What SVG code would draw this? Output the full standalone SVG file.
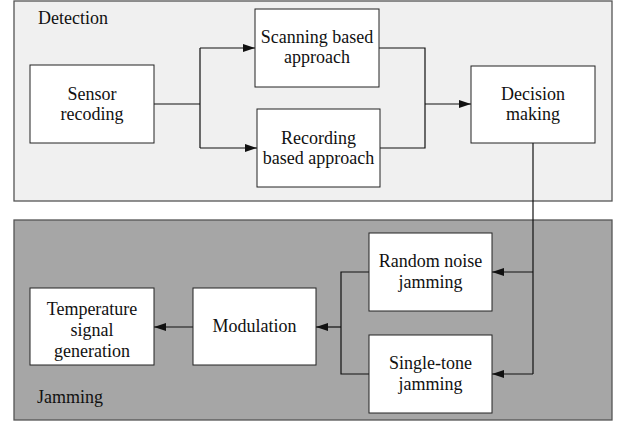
<svg xmlns="http://www.w3.org/2000/svg" width="619" height="424" viewBox="0 0 619 424">
  <style>
    .panel { stroke: #555555; stroke-width: 1.3; }
    .box { fill: #ffffff; stroke: #222222; stroke-width: 1; }
    .lbl { font-family: "Liberation Serif", "Times New Roman", serif; font-size: 18px; fill: #111111; text-anchor: middle; }
    .ptitle { font-family: "Liberation Serif", "Times New Roman", serif; font-size: 18px; fill: #111111; }
    .wire { fill: none; stroke: #111111; stroke-width: 1.2; }
  </style>
  <defs>
    <marker id="arrow" viewBox="0 0 12 8" refX="12" refY="4" markerWidth="12" markerHeight="8" markerUnits="userSpaceOnUse" orient="auto">
      <path d="M0,0 L12,4 L0,8 Z" fill="#111111"/>
    </marker>
  </defs>

  <!-- panels -->
  <g id="detection-panel">
    <rect class="panel" x="14" y="1" width="598" height="200" fill="#f0f0f0"/>
    <text class="ptitle" x="38" y="24">Detection</text>
  </g>
  <g id="jamming-panel">
    <rect class="panel" x="14" y="220" width="598" height="200" fill="#a6a6a6"/>
    <text class="ptitle" x="37" y="403">Jamming</text>
  </g>

  <!-- connectors -->
  <g id="connectors">
    <path class="wire" d="M154,104 H200 M200,48 V148"/>
    <path class="wire" d="M200,48 H255" marker-end="url(#arrow)"/>
    <path class="wire" d="M200,148 H257" marker-end="url(#arrow)"/>
    <path class="wire" d="M379,48 H425 V148 H380"/>
    <path class="wire" d="M425,104 H471" marker-end="url(#arrow)"/>
    <path class="wire" d="M533,143 V374"/>
    <path class="wire" d="M533,272 H492" marker-end="url(#arrow)"/>
    <path class="wire" d="M533,374 H492" marker-end="url(#arrow)"/>
    <path class="wire" d="M369,272 H341 V374 H369"/>
    <path class="wire" d="M341,327 H316" marker-end="url(#arrow)"/>
    <path class="wire" d="M193,327 H154" marker-end="url(#arrow)"/>
  </g>

  <!-- nodes -->
  <g id="sensor-recoding">
    <rect class="box" x="30" y="65" width="124" height="78"/>
    <text class="lbl" x="92" y="100">Sensor</text>
    <text class="lbl" x="92" y="120">recoding</text>
  </g>
  <g id="scanning-based">
    <rect class="box" x="255" y="9" width="124" height="78"/>
    <text class="lbl" x="317" y="43">Scanning based</text>
    <text class="lbl" x="317" y="63">approach</text>
  </g>
  <g id="recording-based">
    <rect class="box" x="257" y="109" width="123" height="78"/>
    <text class="lbl" x="318.5" y="144">Recording</text>
    <text class="lbl" x="318.5" y="164">based approach</text>
  </g>
  <g id="decision-making">
    <rect class="box" x="471" y="66" width="124" height="77"/>
    <text class="lbl" x="533" y="100">Decision</text>
    <text class="lbl" x="533" y="120">making</text>
  </g>
  <g id="random-noise">
    <rect class="box" x="369" y="233" width="123" height="78"/>
    <text class="lbl" x="430.5" y="267">Random noise</text>
    <text class="lbl" x="430.5" y="288">jamming</text>
  </g>
  <g id="single-tone">
    <rect class="box" x="369" y="335" width="123" height="78"/>
    <text class="lbl" x="430.5" y="369">Single-tone</text>
    <text class="lbl" x="430.5" y="390">jamming</text>
  </g>
  <g id="modulation">
    <rect class="box" x="193" y="288" width="123" height="77"/>
    <text class="lbl" x="254.5" y="332">Modulation</text>
  </g>
  <g id="temperature-signal">
    <rect class="box" x="30" y="288" width="124" height="77"/>
    <text class="lbl" x="92" y="315">Temperature</text>
    <text class="lbl" x="92" y="336">signal</text>
    <text class="lbl" x="92" y="357">generation</text>
  </g>
</svg>
